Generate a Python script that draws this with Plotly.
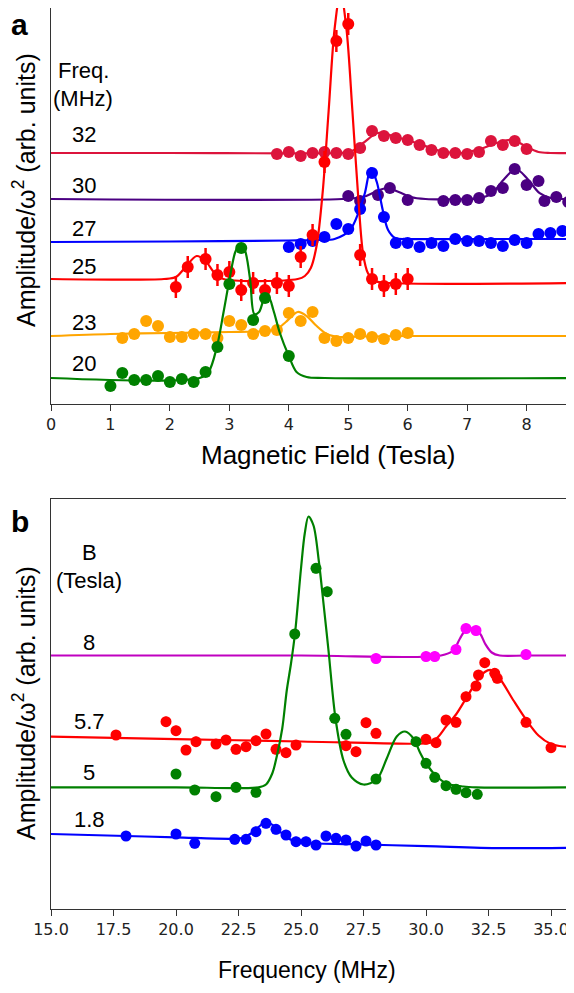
import plotly.graph_objects as go

# ---------------- Panel a: amplitude vs magnetic field (Tesla) ----------------
a_freq_labels = ["32", "30", "27", "25", "23", "20"]

# 20 MHz (green)
a20_B = [1.0, 1.2, 1.4, 1.6, 1.8, 2.0, 2.2, 2.4, 2.6, 2.8, 3.0, 3.2, 3.4, 3.6, 4.0]
a20_y = [18, 31, 24, 24, 28, 22, 25, 22, 32, 57, 120, 156, 84, 106, 48]
a20_fitB = [0, 2.5, 2.65, 2.79, 2.9, 3.01, 3.1, 3.18, 3.26, 3.35, 3.42, 3.5, 3.58, 3.66, 3.74, 3.85, 4.0, 4.13, 4.3, 4.6, 8.8]
a20_fity = [26, 26, 32, 57, 91, 127, 152, 160, 154, 124, 90, 92, 104, 107, 94, 71, 48, 32, 27, 26, 26]

# 23 MHz (orange)
a23_B = [1.2, 1.4, 1.6, 1.8, 2.0, 2.2, 2.4, 2.6, 2.8, 3.0, 3.2, 3.4, 3.6, 3.8, 4.0, 4.2, 4.4, 4.6, 4.8, 5.0, 5.2, 5.4, 5.6, 5.8, 6.0]
a23_y = [66, 70, 83, 78, 67, 67, 70, 70, 66, 83, 79, 70, 73, 74, 91, 83, 92, 66, 63, 66, 70, 67, 65, 69, 71]
a23_fitB = [0, 1.0, 2.0, 3.0, 3.6, 3.8, 3.95, 4.15, 4.3, 4.45, 4.64, 4.86, 5.2, 6.0, 8.8]
a23_fity = [68, 70, 71, 72, 73, 75, 82, 92, 88, 79, 70, 67, 67.5, 68, 68]

# 25 MHz (red, with error bars)
a25_B = [2.1, 2.3, 2.6, 2.8, 3.0, 3.2, 3.4, 3.6, 3.8, 4.0, 4.2, 4.4, 4.6, 4.8, 5.0, 5.2, 5.4, 5.6, 5.8, 6.0]
a25_y = [117, 137, 145, 129, 132, 114, 121, 114, 121, 118, 147, 169, 242, 363, 380, 149, 125, 118, 120, 125]
a25_err = [11] * 20
a25_fitB = [0, 1.9, 2.1, 2.25, 2.45, 2.6, 2.75, 2.9, 4.15, 4.27, 4.37, 4.47, 4.57, 4.67, 4.77, 4.87, 4.97, 5.07, 5.17, 5.25, 5.33, 5.45, 5.7, 8.8]
a25_fity = [125, 125, 127, 136, 148, 143, 131, 125, 125, 128, 136, 159, 212, 293, 375, 412, 375, 293, 205, 150, 131, 123, 121, 121]

# 27 MHz (blue)
a27_B = [4.0, 4.2, 4.4, 4.6, 4.8, 5.0, 5.2, 5.4, 5.6, 5.8, 6.0, 6.2, 6.4, 6.6, 6.8, 7.0, 7.2, 7.4, 7.6, 7.8, 8.0, 8.2, 8.4, 8.6]
a27_y = [157, 160, 163, 167, 180, 175, 195, 231, 187, 161, 161, 157, 161, 158, 165, 163, 163, 161, 158, 164, 161, 170, 171, 173]
a27_fitB = [0, 2.0, 4.0, 4.5, 4.77, 5.03, 5.17, 5.28, 5.38, 5.48, 5.58, 5.67, 5.79, 6.0, 7.0, 8.8]
a27_fity = [162, 162.5, 163.5, 164, 165, 174, 191, 211, 236, 222, 194, 174, 166, 165, 165, 165]

# 30 MHz (indigo)
a30_B = [5.0, 5.2, 5.5, 5.7, 6.0, 6.6, 6.8, 7.0, 7.2, 7.4, 7.6, 7.8, 8.0, 8.2, 8.3, 8.5, 8.7]
a30_y = [208, 203, 209, 216, 204, 203, 204, 204, 206, 213, 216, 235, 219, 223, 203, 207, 202]
a30_fitB = [0, 4.9, 5.25, 5.45, 5.65, 5.85, 6.05, 6.3, 7.0, 7.22, 7.42, 7.62, 7.82, 8.02, 8.22, 8.42, 8.6, 8.8]
a30_fity = [205, 205, 207, 212, 216, 212, 207, 205, 205, 205.7, 210.8, 224.8, 235, 224.8, 210.8, 205.7, 205, 205]

# 32 MHz (crimson)
a32_B = [3.8, 4.0, 4.2, 4.4, 4.6, 4.8, 5.0, 5.2, 5.4, 5.6, 5.8, 6.0, 6.2, 6.4, 6.6, 6.8, 7.0, 7.2, 7.4, 7.6, 7.8, 8.0]
a32_y = [250, 252, 248, 251, 252, 251, 250, 256, 273, 268, 266, 264, 259, 254, 251, 251, 250, 252, 263, 259, 263, 255]
a32_fitB = [0, 2.0, 4.8, 5.03, 5.25, 5.5, 5.8, 6.15, 6.55, 6.9, 7.22, 7.55, 7.78, 8.0, 8.2, 8.4, 8.8]
a32_fity = [251, 251, 251, 252, 261, 271, 267, 261, 253, 251, 255, 262, 264, 257, 252, 251, 251]

# ---------------- Panel b: amplitude vs frequency (MHz) ----------------
b_field_labels = ["8", "5.7", "5", "1.8"]

# B = 8 T (magenta)
b8_f = [28.0, 30.0, 30.35, 31.2, 31.6, 32.0, 34.0]
b8_y = [250, 252, 252, 259, 280, 278, 254]
b8_fitf = [15, 25, 30.6, 31.09, 31.36, 31.6, 31.85, 32.16, 32.36, 32.63, 32.95, 34, 35.92]
b8_fity = [253, 253, 253, 258, 270, 279, 280, 275, 265, 256, 253, 253, 253]

# B = 5.7 T (red)
b57_f = [17.6, 19.6, 20.0, 20.4, 20.8, 21.6, 22.0, 22.4, 22.8, 23.2, 23.6, 24.0, 24.4, 24.8, 26.8, 27.2, 27.6, 28.0,
         30.0, 30.4, 30.8, 31.2, 31.6, 32.0, 32.1, 32.35, 32.75, 32.85, 34.0, 35.0]
b57_y = [173.5, 186.8, 177.8, 158.5, 166.8, 164.5, 168.5, 159.2, 161.8, 167.8, 174.5, 159.2, 155.8, 163.5, 162.8, 156.8,
         185.8, 175.2, 169.2, 165.8, 188.5, 186.2, 211.8, 222.5, 233.5, 245.8, 235.2, 230.2, 186.2, 160.8]
b57_fitf = [15, 20, 25, 29.6, 30.2, 30.5, 30.8, 31.2, 31.6, 32.0, 32.35, 32.6, 32.95, 33.5, 34.0, 34.5, 35.0, 35.5, 35.92]
b57_fity = [171.8, 169.4, 167.0, 164.8, 166, 172, 182, 194, 210, 226, 236.5, 238.5, 230, 208, 189, 173, 164.5, 162, 161.8]

# B = 5 T (green)
b5_f = [20.0, 20.75, 21.6, 22.4, 23.2, 24.75, 25.6, 26.05, 26.35, 26.8, 28.0, 29.6, 30.0, 30.35, 30.8, 31.2, 31.6, 32.05]
b5_y = [134.5, 118.5, 111.8, 121.2, 116.2, 274.5, 340.2, 316.8, 190.2, 174.2, 129.5, 166.8, 145.2, 131.2, 122.8, 119.2, 115.8, 114.2]
b5_fitf = [15, 20, 23.3, 23.6, 23.85, 24.03, 24.25, 24.43, 24.6, 24.76, 25.0, 25.15, 25.3, 25.5, 25.71, 25.9, 26.1, 26.38,
           26.7, 27.03, 27.5, 28.03, 28.43, 28.83, 29.16, 29.5, 29.76, 30.03, 30.43, 30.83, 31.5, 32.0, 35.92]
b5_fity = [121.2, 121.2, 121.2, 124, 135, 152, 180, 218, 245, 275, 340, 375, 392, 383, 348, 305, 258, 190,
           148, 131, 124, 129, 150, 172, 177, 170, 156, 144, 132, 125, 122, 121.2, 121.2]

# B = 1.8 T (blue)
b18_f = [18.0, 20.0, 20.75, 22.35, 22.8, 23.2, 23.6, 24.0, 24.4, 24.8, 25.2, 25.6, 26.0, 26.4, 26.8, 27.2, 27.6, 28.0]
b18_y = [72.5, 74.5, 65.2, 69.2, 69.2, 76.8, 85.2, 79.2, 73.5, 66.8, 66.8, 63.5, 72.5, 70.2, 68.5, 62.5, 67.5, 63.5]
b18_fitf = [15, 18, 20, 22.3, 22.7, 23.0, 23.3, 23.6, 23.9, 24.2, 24.5, 24.8, 25.2, 27, 30, 33, 35.92]
b18_fity = [74.5, 72.5, 71.2, 69.7, 71, 75, 81.5, 86.5, 83, 76, 70, 67, 65.5, 64.3, 62.4, 60.4, 60.8]

# ---------------- Figure ----------------
# The page body adds an 8 px offset; lay the figure out in window pixels minus that offset.
OX, OY = 8, 8
W, H = 574 - OX, 993 - OY
fig = go.Figure()

series_a = [
    (a32_B, a32_y, None, a32_fitB, a32_fity, "#DC143C", "#DC143C"),
    (a30_B, a30_y, None, a30_fitB, a30_fity, "#4B0082", "#4B0082"),
    (a27_B, a27_y, None, a27_fitB, a27_fity, "#0000FF", "#0000FF"),
    (a25_B, a25_y, a25_err, a25_fitB, a25_fity, "#FF0000", "#FF0000"),
    (a23_B, a23_y, None, a23_fitB, a23_fity, "#FFA500", "#FFA500"),
    (a20_B, a20_y, None, a20_fitB, a20_fity, "#008000", "#008000"),
]
for xs, ys, err, fx, fy, lc, mc in series_a:
    fig.add_trace(go.Scatter(x=fx, y=fy, mode="lines", line=dict(color=lc, width=2.2, shape="spline", smoothing=0.9),
                             xaxis="x", yaxis="y", hoverinfo="skip"))
    fig.add_trace(go.Scatter(x=xs, y=ys, mode="markers", marker=dict(color=mc, size=12),
                             error_y=(dict(type="data", array=err, visible=True, color=mc, thickness=2.5, width=0)
                                      if err else None),
                             xaxis="x", yaxis="y"))

series_b = [
    (b8_f, b8_y, b8_fitf, b8_fity, "#C000C0", "#FF00FF"),
    (b57_f, b57_y, b57_fitf, b57_fity, "#FF0000", "#FF0000"),
    (b5_f, b5_y, b5_fitf, b5_fity, "#008000", "#008000"),
    (b18_f, b18_y, b18_fitf, b18_fity, "#0000FF", "#0000FF"),
]
for xs, ys, fx, fy, lc, mc in series_b:
    fig.add_trace(go.Scatter(x=fx, y=fy, mode="lines", line=dict(color=lc, width=2.2, shape="spline", smoothing=0.9),
                             xaxis="x2", yaxis="y2", hoverinfo="skip"))
    fig.add_trace(go.Scatter(x=xs, y=ys, mode="markers", marker=dict(color=mc, size=11),
                             error_y=dict(type="data", array=[5] * len(ys), visible=True, color=mc, thickness=2.5, width=0),
                             xaxis="x2", yaxis="y2"))

def px2paper(px):
    return (px - OX) / W

def py2paper(py):
    return min(1.0, max(0.0, 1 - (py - OY) / H))

axis_line = dict(showline=True, linecolor="#333333", linewidth=1.3, showgrid=False, zeroline=False, automargin=False)
tickfont = dict(family="DejaVu Sans", size=16, color="#222222")

a_top_py = max(2, OY)  # top frame of panel a (cannot go above the page offset)

fig.update_layout(
    width=W, height=H, margin=dict(l=0, r=0, t=0, b=0, pad=0), autosize=False,
    paper_bgcolor="white", plot_bgcolor="white", showlegend=False,
    xaxis=dict(domain=[px2paper(51), 1], range=[0, (574 - 51) / 59.45], anchor="y", ticks="outside", ticklen=6,
               tickcolor="#333333", tick0=0, dtick=1, tickfont=tickfont, mirror=True, **axis_line),
    yaxis=dict(domain=[py2paper(404), py2paper(a_top_py)], range=[0, 404 - a_top_py], anchor="x",
               showticklabels=False, ticks="", **axis_line),
    xaxis2=dict(domain=[px2paper(51), 1], range=[15, 15 + (574 - 51) / 25], anchor="y2", ticks="outside", ticklen=6,
                tickcolor="#333333", tick0=15, dtick=2.5, tickformat=".1f", tickfont=tickfont, mirror=True,
                **axis_line),
    yaxis2=dict(domain=[py2paper(908.5), py2paper(499)], range=[0, 409.5], anchor="x2", showticklabels=False,
                ticks="", **axis_line),
)

txt_font = "Liberation Sans, Arial, sans-serif"

def label(text, px, py, size=22, bold=False, angle=0):
    fig.add_annotation(x=px2paper(px), y=py2paper(py), xref="paper", yref="paper",
                       text=("<b>%s</b>" % text) if bold else text,
                       showarrow=False, xanchor="center", yanchor="middle", textangle=angle,
                       font=dict(family=txt_font, size=size, color="black"))

# Panel a labels
label("Freq.", 83, 71)
label("(MHz)", 83, 98)
a_label_py = [135, 185, 229, 266, 322, 364]
for t, p in zip(a_freq_labels, a_label_py):
    label(t, 84, p)
# Panel b labels
label("B", 89, 552)
label("(Tesla)", 89, 580)
b_label_py = [642, 721, 772, 819]
for t, p in zip(b_field_labels, b_label_py):
    label(t, 89, p)

# Axis titles
label("Magnetic Field (Tesla)", 328, 455, size=26)
label("Frequency (MHz)", 307, 970, size=23)
label("Amplitude/ω<sup>2</sup> (arb. units)", 24, 190, size=25, angle=-90)
label("Amplitude/ω<sup>2</sup> (arb. units)", 24, 703, size=25, angle=-90)

# Panel letters
label("a", 19, 25, size=30, bold=True)
label("b", 20, 521, size=30, bold=True)

fig.write_html("out.html")
